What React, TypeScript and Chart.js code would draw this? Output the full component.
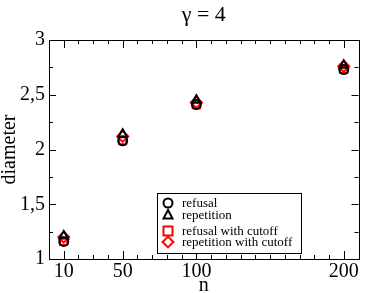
import React, { useEffect, useRef } from "react";
import { Chart, registerables } from "chart.js";

Chart.register(...registerables);

const nValues = [10, 50, 100, 200];
const refusal = [1.16, 2.08, 2.41, 2.73];
const repetition = [1.21, 2.14, 2.45, 2.77];
const refusalCutoff = [1.16, 2.08, 2.41, 2.73];
const repetitionCutoff = [1.2, 2.12, 2.43, 2.76];
const xTickLabels = [10, 50, 100, 200];
const yTickValues = [1, 1.5, 2, 2.5, 3];
const legendLabels = ["refusal", "repetition", "refusal with cutoff", "repetition with cutoff"];

const FONT = "'Liberation Serif', 'Times New Roman', serif";

function drawMarker(ctx: CanvasRenderingContext2D, style: string, x: number, y: number, r: number, color: string) {
  ctx.save();
  ctx.strokeStyle = color;
  ctx.lineWidth = 2;
  ctx.beginPath();
  if (style === "circle") {
    ctx.arc(x, y, r, 0, Math.PI * 2);
  } else if (style === "triangle") {
    ctx.moveTo(x, y - r * 1.1);
    ctx.lineTo(x + r, y + r * 0.8);
    ctx.lineTo(x - r, y + r * 0.8);
    ctx.closePath();
  } else if (style === "rect") {
    ctx.rect(x - r, y - r, 2 * r, 2 * r);
  } else {
    ctx.moveTo(x, y - r * 1.2);
    ctx.lineTo(x + r * 1.2, y);
    ctx.lineTo(x, y + r * 1.2);
    ctx.lineTo(x - r * 1.2, y);
    ctx.closePath();
  }
  ctx.stroke();
  ctx.restore();
}

const framePlugin = {
  id: "frame",
  afterDraw(chart: any) {
    const { ctx, chartArea, scales } = chart;
    const { left, right, top, bottom } = chartArea;
    const xs = scales.x;
    const ys = scales.y;
    ctx.save();
    ctx.strokeStyle = "#000";
    ctx.lineWidth = 1;
    ctx.strokeRect(Math.round(left) + 0.5, Math.round(top) + 0.5, Math.round(right - left), Math.round(bottom - top));
    ctx.beginPath();
    for (let v = 10; v <= 200; v += 10) {
      const major = xTickLabels.includes(v);
      const len = major ? 8 : 4;
      const px = Math.round(xs.getPixelForValue(v)) + 0.5;
      ctx.moveTo(px, bottom);
      ctx.lineTo(px, bottom - len);
      ctx.moveTo(px, top);
      ctx.lineTo(px, top + len);
    }
    for (let i = 0; i <= 8; i++) {
      const v = 1 + i * 0.25;
      const major = i % 2 === 0;
      const len = major ? 7 : 4;
      const py = Math.round(ys.getPixelForValue(v)) + 0.5;
      ctx.moveTo(left, py);
      ctx.lineTo(left + len, py);
      ctx.moveTo(right, py);
      ctx.lineTo(right - len, py);
    }
    ctx.stroke();

    // legend
    const bx = 157, by = 193, bw = 144, bh = 60;
    ctx.fillStyle = "#fff";
    ctx.fillRect(bx, by, bw, bh);
    ctx.strokeStyle = "#000";
    ctx.lineWidth = 1;
    ctx.strokeRect(bx + 0.5, by + 0.5, bw, bh);
    const styles = ["circle", "triangle", "rect", "rectRot"];
    const colors = ["#000", "#000", "#ff0000", "#ff0000"];
    const ysPos = [203, 215, 231, 242];
    ctx.font = `13px ${FONT}`;
    ctx.textBaseline = "middle";
    legendLabels.forEach((lab, i) => {
      drawMarker(ctx, styles[i], 168, ysPos[i], 4.5, colors[i]);
      ctx.fillStyle = "#000";
      ctx.fillText(lab, 182, ysPos[i] + 1);
    });
    ctx.restore();
  },
};

export default function App() {
  const ref = useRef<HTMLCanvasElement>(null);
  useEffect(() => {
    document.body.style.margin = "0";
    const mk = (data: number[]) => nValues.map((n, i) => ({ x: n, y: data[i] }));
    const chart = new Chart(ref.current!, {
      type: "scatter",
      data: {
        datasets: [
          { label: legendLabels[0], data: mk(refusal), pointStyle: "circle", borderColor: "#000", backgroundColor: "transparent", pointRadius: 4.5, borderWidth: 2 },
          { label: legendLabels[1], data: mk(repetition), pointStyle: "triangle", borderColor: "#000", backgroundColor: "transparent", pointRadius: 5, borderWidth: 2 },
          { label: legendLabels[2], data: mk(refusalCutoff), pointStyle: "rect", borderColor: "#ff0000", backgroundColor: "transparent", pointRadius: 5, borderWidth: 2 },
          { label: legendLabels[3], data: mk(repetitionCutoff), pointStyle: "rectRot", borderColor: "#ff0000", backgroundColor: "transparent", pointRadius: 5.5, borderWidth: 2 },
        ],
      },
      options: {
        responsive: true,
        maintainAspectRatio: false,
        animation: false,
        layout: { padding: { left: 0, right: 3, top: 0, bottom: 0 } },
        plugins: {
          legend: { display: false },
          tooltip: { enabled: false },
          title: {
            display: true,
            text: "γ = 4",
            fullSize: false,
            color: "#000",
            font: { family: FONT, size: 22, weight: "normal" },
            padding: { top: 2, bottom: 11.6 },
          },
        },
        scales: {
          x: {
            type: "linear",
            min: 0,
            max: 210,
            grid: { display: false, drawTicks: false },
            border: { display: false },
            afterBuildTicks: (s: any) => { s.ticks = xTickLabels.map((v) => ({ value: v })); },
            afterFit: (s: any) => { s.height = 34; },
            ticks: { color: "#000", font: { family: FONT, size: 20 }, padding: 1, maxRotation: 0, autoSkip: false, callback: (v: any) => String(v) },
            title: { display: true, text: "n", color: "#000", font: { family: FONT, size: 20 }, padding: { top: 0, bottom: -5 } },
          },
          y: {
            min: 1,
            max: 3,
            grid: { display: false, drawTicks: false },
            border: { display: false },
            afterBuildTicks: (s: any) => { s.ticks = yTickValues.map((v) => ({ value: v })); },
            afterFit: (s: any) => { s.width = 49; },
            ticks: { color: "#000", font: { family: FONT, size: 20 }, padding: 4, callback: (v: any) => String(v).replace(".", ",") },
            title: { display: true, text: "diameter", color: "#000", font: { family: FONT, size: 20 }, padding: { top: -2, bottom: 0 } },
          },
        },
      },
      plugins: [framePlugin],
    } as any);
    return () => chart.destroy();
  }, []);
  return (
    <div style={{ width: 366, height: 293, position: "relative" }}>
      <canvas ref={ref} />
    </div>
  );
}
